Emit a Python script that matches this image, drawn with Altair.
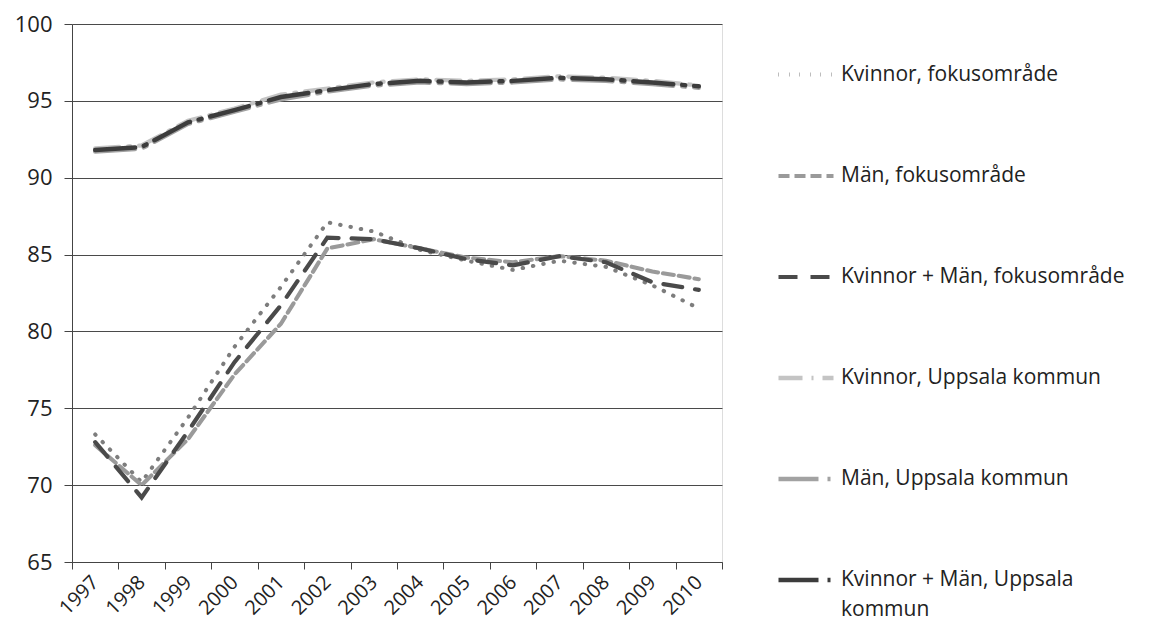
import altair as alt
import pandas as pd

years = [str(y) for y in range(1997, 2011)]

series = [
    "Kvinnor, fokusområde",
    "Män, fokusområde",
    "Kvinnor + Män, fokusområde",
    "Kvinnor, Uppsala kommun",
    "Män, Uppsala kommun",
    "Kvinnor + Män, Uppsala kommun",
]

kvinnor_fokus = [73.3, 70.2, 74.4, 79.0, 82.9, 87.1, 86.5, 85.3, 84.6, 84.0, 84.6, 84.2, 83.0, 81.5]
man_fokus = [72.6, 70.0, 73.0, 77.2, 80.5, 85.4, 86.0, 85.4, 84.8, 84.5, 84.9, 84.6, 83.9, 83.4]
km_fokus = [72.8, 69.2, 73.5, 78.0, 81.7, 86.1, 86.0, 85.4, 84.7, 84.3, 84.9, 84.5, 83.2, 82.7]
kvinnor_upp = [91.9, 92.1, 93.7, 94.5, 95.4, 95.8, 96.2, 96.4, 96.3, 96.4, 96.6, 96.5, 96.3, 96.0]
man_upp = [91.7, 91.9, 93.5, 94.3, 95.1, 95.6, 96.0, 96.2, 96.1, 96.2, 96.4, 96.3, 96.1, 95.85]
km_upp = [91.8, 92.0, 93.6, 94.4, 95.25, 95.7, 96.1, 96.3, 96.2, 96.3, 96.5, 96.4, 96.2, 95.95]

values = [kvinnor_fokus, man_fokus, km_fokus, kvinnor_upp, man_upp, km_upp]

rows = []
for s, vals in zip(series, values):
    for y, v in zip(years, vals):
        rows.append({"year": y, "value": v, "series": s})
df = pd.DataFrame(rows)

colors = ["#7d7d7d", "#9a9a9a", "#4a4a4a", "#c4c4c4", "#a2a2a2", "#3c3c3c"]
dashes = [[0.5, 10], [11, 5], [19, 13], [24, 9, 2, 9], [40, 9, 3, 9], [40, 9, 3, 9]]
widths = [4, 4.5, 5, 4.5, 5, 5]

font = "Open Sans"

lines = alt.Chart(df).mark_line(strokeCap="round").encode(
    x=alt.X(
        "year:O",
        scale=alt.Scale(type="band", paddingInner=0, paddingOuter=0),
        axis=alt.Axis(
            title=None,
            tickBand="extent",
            labelAngle=-45,
            labelAlign="right",
            labelBaseline="middle",
            labelPadding=10,
            tickSize=7,
            grid=False,
            domainColor="#444",
            tickColor="#444",
            labelFont=font,
            labelFontSize=20,
            labelColor="#222",
        ),
    ),
    y=alt.Y(
        "value:Q",
        scale=alt.Scale(domain=[65, 100], nice=False, zero=False),
        axis=alt.Axis(
            title=None,
            values=[65, 70, 75, 80, 85, 90, 95, 100],
            tickSize=8,
            labelPadding=12,
            grid=True,
            gridColor="#4a4a4a",
            gridWidth=1,
            domainColor="#444",
            tickColor="#444",
            labelFont=font,
            labelFontSize=22,
            labelColor="#222",
        ),
    ),
    color=alt.Color(
        "series:N",
        sort=series,
        scale=alt.Scale(domain=series, range=colors),
        legend=alt.Legend(
            title=None,
            orient="none",
            legendX=704,
            legendY=21,
            symbolType="stroke",
            symbolSize=3025,
            symbolStrokeWidth=4,
            rowPadding=61,
            labelOffset=5,
            labelFont=font,
            labelFontSize=21,
            labelColor="#222",
            labelLimit=420,
            labelExpr="datum.label == 'Kvinnor + Män, Uppsala kommun' ? ['Kvinnor + Män, Uppsala', 'kommun'] : datum.label",
        ),
    ),
    strokeDash=alt.StrokeDash(
        "series:N", sort=series, scale=alt.Scale(domain=series, range=dashes)
    ),
    strokeWidth=alt.StrokeWidth(
        "series:N", sort=series, scale=alt.Scale(domain=series, range=widths)
    ),
    order=alt.Order("year:O"),
)

chart = lines.properties(
    width=650,
    height=538,
    autosize=alt.AutoSizeParams(type="none"),
    padding={"left": 64, "top": 16, "right": 424, "bottom": 59},
).configure_view(stroke=None).configure(
    background="white",
    style={"guide-label": {"lineHeight": 30}},
)

chart.save("out.html", embed_options={"renderer": "svg", "actions": False})
